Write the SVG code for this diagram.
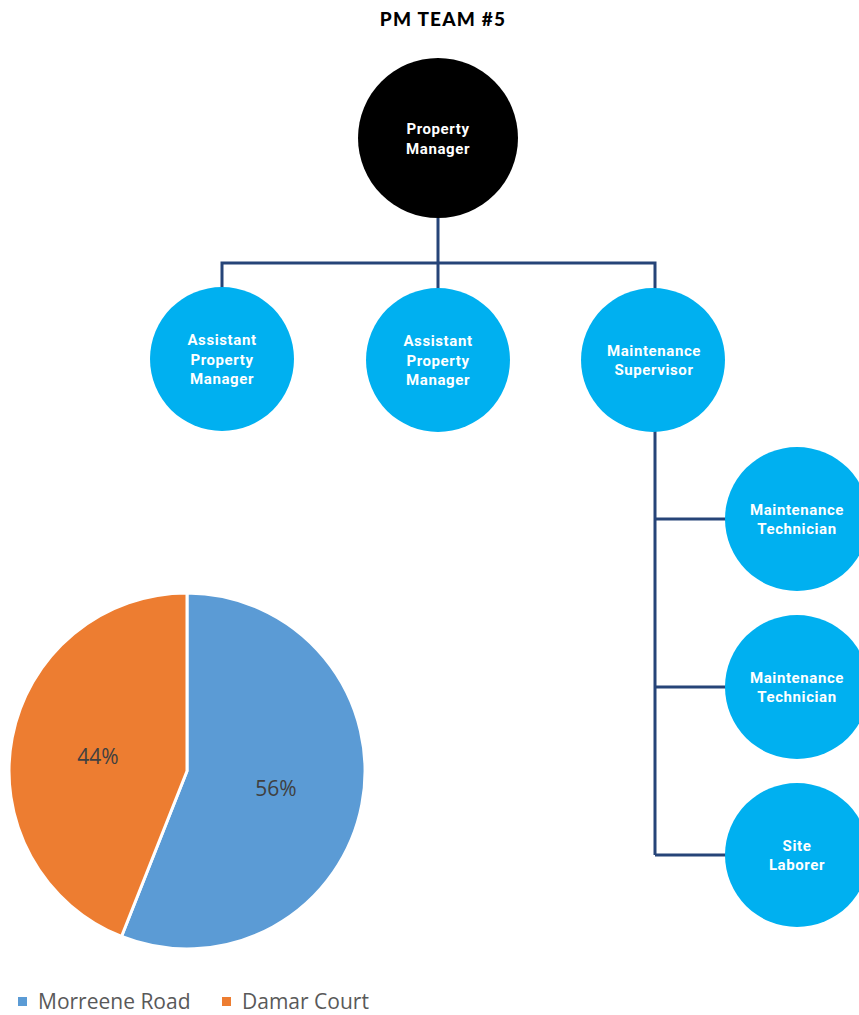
<svg xmlns="http://www.w3.org/2000/svg" width="859" height="1015" viewBox="0 0 859 1015">
<style>
.node{fill:#00B0F0}
.lbl{font-family:Roboto,"Noto Sans",sans-serif;font-weight:bold;font-size:15px;letter-spacing:0.6px;fill:#fff;text-anchor:middle}
.conn{stroke:#264478;stroke-width:3;fill:none}
.pct{font-family:"Open Sans","Liberation Sans",sans-serif;font-size:21px;fill:#404040;text-anchor:middle}
.leg{font-family:"Open Sans","Liberation Sans",sans-serif;font-size:21px;fill:#595959}
</style>
<rect width="859" height="1015" fill="#fff"/>
<text x="443" y="26" text-anchor="middle" font-family="Lato,'Noto Sans',sans-serif" font-weight="900" font-size="19" letter-spacing="1.2">PM TEAM #5</text>
<g id="connectors">
<path class="conn" d="M438,218 V263 M222,290 V263 H655 V290 M438,263 V290"/>
<path class="conn" d="M655,430 V855 M655,519 H727 M655,687 H727 M655,855 H727"/>
</g>
<g id="pm"><circle cx="438" cy="138" r="80" fill="#000"/><text class="lbl" x="438" y="134">Property</text><text class="lbl" x="438" y="154">Manager</text></g>
<g id="apm1"><circle class="node" cx="222" cy="359" r="72"/><text class="lbl" x="222" y="345">Assistant</text><text class="lbl" x="222" y="365">Property</text><text class="lbl" x="222" y="384">Manager</text></g>
<g id="apm2"><circle class="node" cx="438" cy="360" r="72"/><text class="lbl" x="438" y="346">Assistant</text><text class="lbl" x="438" y="366">Property</text><text class="lbl" x="438" y="385">Manager</text></g>
<g id="ms"><circle class="node" cx="653" cy="360" r="72"/><text class="lbl" x="654" y="356">Maintenance</text><text class="lbl" x="654" y="375">Supervisor</text></g>
<g id="mt1"><circle class="node" cx="797" cy="519" r="72"/><text class="lbl" x="797" y="515">Maintenance</text><text class="lbl" x="797" y="534">Technician</text></g>
<g id="mt2"><circle class="node" cx="797" cy="687" r="72"/><text class="lbl" x="797" y="683">Maintenance</text><text class="lbl" x="797" y="702">Technician</text></g>
<g id="sl"><circle class="node" cx="797" cy="855" r="72"/><text class="lbl" x="797" y="851">Site</text><text class="lbl" x="797" y="870">Laborer</text></g>
<g id="pie">
<path d="M187,771 V593 A178,178 0 1,1 121.5,936.5 Z" fill="#5B9BD5" stroke="#fff" stroke-width="3" stroke-linejoin="round"/>
<path d="M187,771 L121.5,936.5 A178,178 0 0,1 187,593 Z" fill="#ED7D31" stroke="#fff" stroke-width="3" stroke-linejoin="round"/>
<text class="pct" x="98" y="764">44%</text>
<text class="pct" x="276" y="796">56%</text>
</g>
<g id="legend">
<rect x="18" y="997" width="9" height="9" fill="#5B9BD5"/>
<text class="leg" x="38" y="1009">Morreene Road</text>
<rect x="222" y="997" width="9" height="9" fill="#ED7D31"/>
<text class="leg" x="242" y="1009">Damar Court</text>
</g>
</svg>
